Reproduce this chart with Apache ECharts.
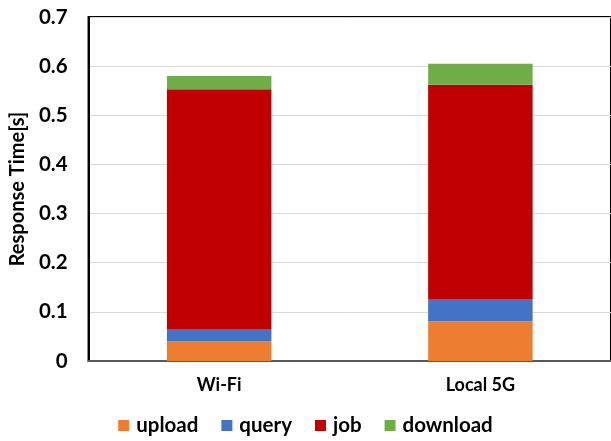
<!DOCTYPE html>
<html>
<head>
<meta charset="utf-8">
<script src="https://cdn.jsdelivr.net/npm/echarts@6/dist/echarts.min.js"></script>
<style>
  html, body { margin: 0; padding: 0; background: #fff; }
  #chart { width: 611px; height: 441px; }
</style>
</head>
<body>
<div id="chart"></div>
<script>
// Network types on the x axis
const categories = ['Wi-Fi', 'Local 5G'];

// Response time breakdown per stage, in seconds
const upload   = [0.040, 0.081];
const query    = [0.025, 0.045];
const job      = [0.488, 0.436];
const download = [0.027, 0.043];

const yTicks = [0, 0.1, 0.2, 0.3, 0.4, 0.5, 0.6, 0.7];

const FONT = 'Lato';

const stages = [
  { name: 'upload',   data: upload,   color: '#ED7D31' },
  { name: 'query',    data: query,    color: '#4472C4' },
  { name: 'job',      data: job,      color: '#C00000' },
  { name: 'download', data: download, color: '#70AD47' }
];

const chart = echarts.init(document.getElementById('chart'), null, { renderer: 'canvas' });

chart.setOption({
  animation: false,
  backgroundColor: '#ffffff',
  grid: {
    left: 79, top: 17, right: -4, bottom: 80,
    show: true,
    borderColor: '#000000',
    borderWidth: 2,
    containLabel: false
  },
  legend: {
    bottom: 0,
    left: 'center',
    itemWidth: 11,
    itemHeight: 11,
    itemGap: 23,
    icon: 'rect',
    textStyle: { fontFamily: FONT, fontWeight: 'bold', fontSize: 20.5, color: '#000', padding: [0, 0, 0, 2] },
    data: stages.map(s => s.name)
  },
  xAxis: {
    type: 'category',
    data: categories,
    axisLine: { lineStyle: { color: '#595959', width: 2 } },
    axisTick: { show: false },
    axisLabel: {
      fontFamily: FONT, fontWeight: 'bold', fontSize: 18, color: '#000', margin: 15
    }
  },
  yAxis: {
    type: 'value',
    min: yTicks[0],
    max: yTicks[yTicks.length - 1],
    interval: 0.1,
    name: 'Response Time[s]',
    nameLocation: 'middle',
    nameRotate: 90,
    nameGap: 53,
    nameTextStyle: { fontFamily: FONT, fontWeight: 'bold', fontSize: 20, color: '#000' },
    axisLine: { show: true, lineStyle: { color: '#000000', width: 2 } },
    axisTick: { show: false },
    splitLine: { lineStyle: { color: '#d9d9d9', width: 1 } },
    axisLabel: {
      fontFamily: FONT, fontWeight: 'bold', fontSize: 20.5, color: '#000', margin: 21,
      formatter: v => String(Math.round(v * 10) / 10)
    }
  },
  series: stages.map(s => ({
    name: s.name,
    type: 'bar',
    stack: 'total',
    barWidth: '40%',
    data: s.data,
    itemStyle: { color: s.color }
  }))
});
</script>
</body>
</html>
